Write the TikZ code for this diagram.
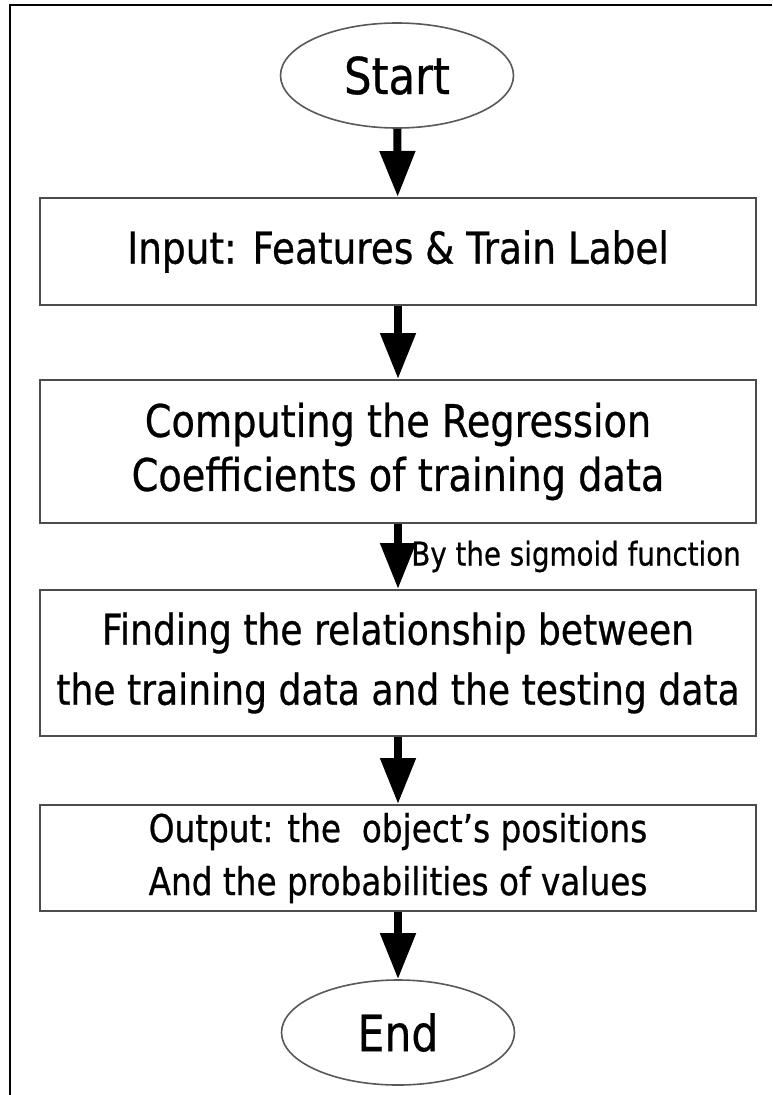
\documentclass[tikz,border=0pt]{standalone}
\usepackage{fontspec}
\setmainfont{DejaVu Sans}[FakeStretch=0.85, FakeBold=0.6]
\usetikzlibrary{arrows.meta,shapes.geometric}

\begin{document}
\begin{tikzpicture}[x=1pt,y=-1pt,
  flowbox/.style={draw=black!70, line width=2pt, minimum width=716pt,
    align=center, inner sep=0pt, text=black},
  terminal/.style={ellipse, draw=black!65, line width=1.6pt,
    minimum width=233pt, minimum height=105pt, inner sep=0pt, text=black},
  flowarrow/.style={line width=8pt, -{Triangle[width=34pt,length=46pt]}}]
\useasboundingbox (0,0) rectangle (772,1095);
\fill[white] (0,0) rectangle (772,1095);
% outer frame (top and left edges)
\draw[line width=2.2pt] (772,5) -- (10,5) -- (10,1095);

\node[terminal, font=\fontsize{51}{58}\selectfont] (start) at (397,75.5) {Start};
\node[flowbox, minimum height=107pt, font=\fontsize{44}{52}\selectfont] (input) at (398,251.5)
  {Input: Features \& Train Label};
\node[flowbox, minimum height=143pt, font=\fontsize{45}{54}\selectfont] (coef) at (398,451.5)
  {Computing the Regression\\Coefficients of training data};
\node[flowbox, minimum height=146pt, font=\fontsize{42.5}{60}\selectfont] (rel) at (398,663)
  {Finding the relationship between\\the training data and the testing data};
\node[flowbox, minimum height=106pt, font=\fontsize{38.5}{53}\selectfont] (out) at (398,858)
  {Output: the\ \ object's positions\\And the probabilities of values};
\node[terminal, font=\fontsize{50}{58}\selectfont] (end) at (398,1032.5) {End};

\draw[flowarrow] (start) -- (input);
\draw[flowarrow] (input) -- (coef);
\draw[flowarrow] (coef) -- node[right=6pt, font=\fontsize{32.6}{38}\selectfont, text=black] (sig) {By the sigmoid function} (rel);
\draw[flowarrow] (rel) -- (out);
\draw[flowarrow] (out) -- (end);
\end{tikzpicture}
\end{document}
